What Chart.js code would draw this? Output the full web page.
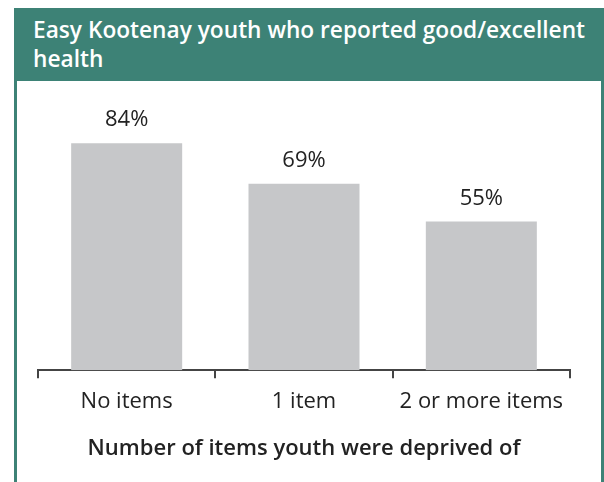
<!DOCTYPE html>
<html><head><meta charset="utf-8">
<script src="https://cdn.jsdelivr.net/npm/chart.js@4"></script>
<style>
html,body{margin:0;padding:0;background:#fff;width:604px;height:482px;overflow:hidden;font-family:"Open Sans",sans-serif;}
#box{position:absolute;left:14px;top:8px;width:584px;height:480px;border-left:3px solid #3d8276;border-right:3px solid #3d8276;}
#hdr{background:#3d8276;color:#fff;font-size:22.7px;font-weight:600;line-height:29px;padding:7px 0 0 16px;height:66px;box-sizing:content-box;white-space:nowrap;}
#wrap{position:absolute;left:0;top:73px;width:584px;height:401px;}
</style></head><body>
<div id="box">
<div id="hdr">Easy Kootenay youth who reported good/excellent<br>health</div>
<div id="wrap"><canvas id="c" width="584" height="401"></canvas></div>
</div>
<script>
const categories = ["No items", "1 item", "2 or more items"];
const values = [84, 69, 55];
const valueLabels = ["84%", "69%", "55%"];
const axisTitle = "Number of items youth were deprived of";

const labelPlugin = {
  id: 'barLabels',
  afterDatasetsDraw(chart) {
    const ctx = chart.ctx;
    const meta = chart.getDatasetMeta(0);
    ctx.save();
    ctx.font = '22px "Open Sans", sans-serif';
    ctx.fillStyle = '#222';
    ctx.textAlign = 'center';
    ctx.textBaseline = 'bottom';
    meta.data.forEach((bar, i) => {
      ctx.fillText(valueLabels[i], bar.x, bar.y - 12);
    });
    ctx.restore();
  }
};

new Chart(document.getElementById('c'), {
  type: 'bar',
  data: {
    labels: categories,
    datasets: [{
      data: values,
      backgroundColor: '#c6c7c9',
      borderWidth: 0,
      barPercentage: 0.626,
      categoryPercentage: 1.0
    }]
  },
  options: {
    responsive: false,
    animation: false,
    layout: { padding: { left: 21, right: 31, top: 19, bottom: 20 } },
    plugins: { legend: { display: false }, tooltip: { enabled: false } },
    scales: {
      y: { display: false, min: 0, max: 100 },
      x: {
        border: { display: true, color: '#444', width: 2 },
        grid: { display: true, drawOnChartArea: false, drawTicks: true, tickLength: 8, color: '#444', lineWidth: 2, offset: true },
        ticks: { color: '#222', font: { family: '"Open Sans", sans-serif', size: 22 }, padding: 10, maxRotation: 0 },
        title: { display: true, text: axisTitle, color: '#222', font: { family: '"Open Sans", sans-serif', size: 22, weight: '600' }, padding: { top: 11, bottom: 0 } }
      }
    }
  },
  plugins: [labelPlugin]
});
</script>
</body></html>
